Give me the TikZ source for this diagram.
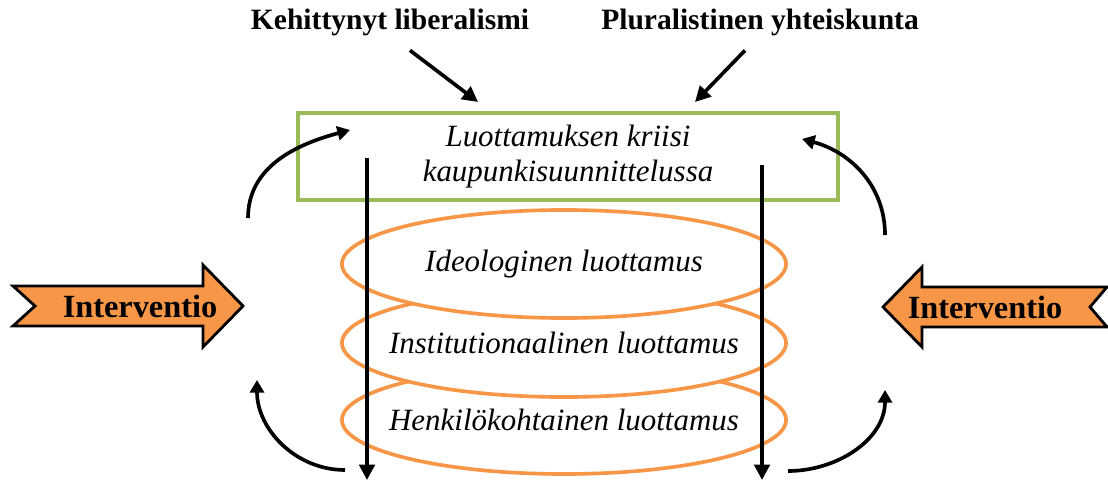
\documentclass[tikz,border=0pt]{standalone}
\usepackage{fontspec}
\setmainfont{Liberation Serif}
\usepackage{tikz}
\usetikzlibrary{calc, positioning, arrows.meta, shapes.geometric}
\definecolor{trustorange}{HTML}{F79646}
\definecolor{crisisgreen}{HTML}{9BBB59}
\tikzset{
    crisis/.style={rectangle, draw=crisisgreen, line width=2.6pt, fill=white, align=center, minimum width=13.5cm, minimum height=2.175cm, font=\fontsize{22}{25}\selectfont\itshape},
    trust/.style={ellipse, draw=trustorange, line width=2.6pt, fill=white, minimum width=11.1cm, minimum height=2.7cm, inner xsep=-2cm, inner ysep=0pt, font=\fontsize{22}{26}\selectfont\itshape},
    cause/.style={font=\fontsize{21}{24}\selectfont\bfseries},
    interv/.style={font=\fontsize{23}{26}\selectfont\bfseries},
    banner/.style={draw=black, line width=2pt, fill=trustorange, line join=miter},
    arrow/.style={-{Triangle[width=11pt,length=11pt]}, line width=2.6pt},
    looparrow/.style={-{Triangle[width=10pt,length=9pt]}, line width=2.6pt}
}

\begin{document}
\begin{tikzpicture}[x=0.025cm, y=0.025cm]
    \useasboundingbox (0,0) rectangle (1108,481);

    % Causes
    \node[cause] (lib) at (390,459) {Kehittynyt liberalismi};
    \node[cause] (plural) at (760,459) {Pluralistinen yhteiskunta};

    % Crisis box
    \node[crisis] (crisis) at (568,324.5) {Luottamuksen kriisi\\kaupunkisuunnittelussa};
    \coordinate (libTip) at (478,379);
    \coordinate (pluralTip) at (695,379);
    \draw[arrow] ($(lib.south)+(20,-10)$) -- (libTip);
    \draw[arrow] ($(plural.south)+(-15,-10)$) -- (pluralTip);

    % Levels of trust (bottom first)
    \node[trust] (personal) at (564,61) {Henkilökohtainen luottamus};
    \node[trust] (institutional) at (564,138) {Institutionaalinen luottamus};
    \node[trust] (ideological) at (564,217) {Ideologinen luottamus};

    % Downward arrows
    \coordinate (leftTop) at (367,323);
    \coordinate (leftBot) at (367,1);
    \coordinate (rightTop) at (762,316);
    \coordinate (rightBot) at (762,1);
    \draw[arrow] (leftTop) -- (leftBot);
    \draw[arrow] (rightTop) -- (rightBot);

    % Feedback loops
    \coordinate (ulStart) at (248,263);
    \coordinate (ulEnd) at (350,351);
    \coordinate (urStart) at (885,246);
    \coordinate (urEnd) at (802,342);
    \coordinate (llStart) at (345,11);
    \coordinate (llEnd) at (257,101);
    \coordinate (lrStart) at (788,10);
    \coordinate (lrEnd) at (885,91);
    \draw[looparrow] (ulStart) to[out=90, in=195] (ulEnd);
    \draw[looparrow] (urStart) to[out=90, in=-15] (urEnd);
    \draw[looparrow] (llStart) to[out=180, in=-90] (llEnd);
    \draw[looparrow] (lrStart) to[out=0, in=-90] (lrEnd);

    % Interventions
    \draw[banner] (13,195) -- (203,195) -- (203,216) -- (243,175) -- (203,134) -- (203,155) -- (13,155) -- (35,175) -- cycle;
    \node[interv] (intLeft) at (140,175) {Interventio};
    \draw[banner] (1107,194) -- (922,194) -- (922,214) -- (883,174) -- (922,134) -- (922,154) -- (1107,154) -- (1090,174) -- cycle;
    \node[interv] (intRight) at (985,174) {Interventio};
\end{tikzpicture}
\end{document}
